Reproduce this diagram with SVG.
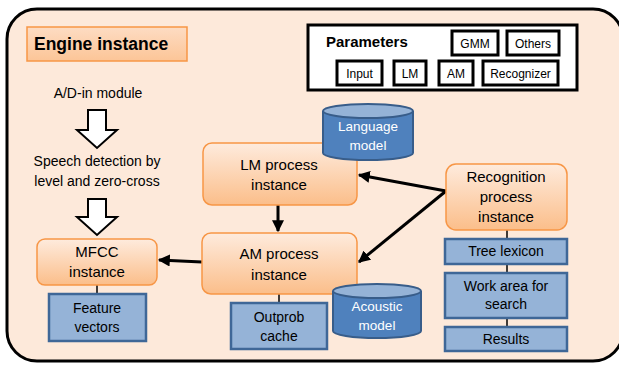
<svg xmlns="http://www.w3.org/2000/svg" width="619" height="365" viewBox="0 0 619 365">
<defs>
<linearGradient id="og" x1="0" y1="0" x2="0" y2="1">
<stop offset="0" stop-color="#FEEBDD"/>
<stop offset="1" stop-color="#FBBE8A"/>
</linearGradient>
<linearGradient id="eg" x1="0" y1="0" x2="0" y2="1">
<stop offset="0" stop-color="#FDDCC3"/>
<stop offset="1" stop-color="#FCC597"/>
</linearGradient>
<marker id="ah" viewBox="0 0 10 10" refX="9" refY="5" markerWidth="4" markerHeight="4" orient="auto" markerUnits="strokeWidth">
<path d="M0,0 L10,5 L0,10 z" fill="#000"/>
</marker>
</defs>
<style>
text{font-family:"Liberation Sans","DejaVu Sans",sans-serif;fill:#000;text-anchor:middle}
.o{fill:url(#og);stroke:#F79646;stroke-width:1.5}
.b{fill:#95B3D7;stroke:#3F6797;stroke-width:2.5}
.p{fill:#fff;stroke:#000;stroke-width:3}
.cy{fill:#4F81BD;stroke:#385D8A;stroke-width:2}
.ct{fill:#95B3D7;stroke:#385D8A;stroke-width:2}
.t15{font-size:15px}
.t14{font-size:14px}
.t13{font-size:13.5px}
.t12{font-size:12px}
.w{fill:#fff}
.ln{stroke:#000;stroke-width:1.5;fill:none}
.ar{stroke:#000;stroke-width:3;fill:none;marker-end:url(#ah)}
.ba{fill:#fff;stroke:#000;stroke-width:2}
</style>
<rect id="engine" x="7" y="9" width="616" height="352" rx="30" fill="#FDE9DA" stroke="#000" stroke-width="3"/>
<g id="engine-title">
<rect x="27" y="27" width="160" height="34" fill="url(#eg)" stroke="#F79646" stroke-width="1.5"/>
<text x="34" y="50" style="text-anchor:start;font-size:17.5px;font-weight:bold">Engine instance</text>
</g>
<g id="parameters">
<rect x="308" y="25" width="269" height="65" class="p"/>
<text x="326" y="47" style="text-anchor:start;font-size:15px;font-weight:bold">Parameters</text>
<rect x="452" y="31" width="46" height="24" class="p"/>
<text x="475" y="48" class="t12">GMM</text>
<rect x="507" y="31" width="52" height="24" class="p"/>
<text x="533" y="48" class="t12">Others</text>
<rect x="337" y="61" width="45" height="24" class="p"/>
<text x="359.500" y="78" class="t12">Input</text>
<rect x="394" y="61" width="32" height="24" class="p"/>
<text x="410" y="78" class="t12">LM</text>
<rect x="439" y="61" width="34" height="24" class="p"/>
<text x="456" y="78" class="t12">AM</text>
<rect x="483" y="61" width="75" height="24" class="p"/>
<text x="520.500" y="78" class="t12">Recognizer</text>
</g>
<g id="ad-in">
<text x="98" y="98" class="t14">A/D-in module</text>
</g>
<g id="speech-detection">
<text x="97" y="166" class="t14">Speech detection by</text>
<text x="97" y="186" class="t14">level and zero-cross</text>
</g>
<g id="block-arrows">
<path d="M88,110 H106 V130 H117 L97,148 L77,130 H88 Z" class="ba"/>
<path d="M88,199 H106 V217 H117 L97,235 L77,217 H88 Z" class="ba"/>
</g>
<g id="connectors">
<line x1="97" y1="285" x2="97" y2="294" class="ln"/>
<line x1="279" y1="294" x2="279" y2="303" class="ln"/>
<line x1="507" y1="230" x2="507" y2="239" class="ln"/>
<line x1="507" y1="264" x2="507" y2="273" class="ln"/>
<line x1="507" y1="318" x2="507" y2="327" class="ln"/>
<line x1="278" y1="205" x2="278" y2="231" class="ar"/>
<line x1="202" y1="262" x2="159" y2="260" class="ar"/>
<line x1="446" y1="191" x2="359" y2="175" class="ar"/>
<line x1="446" y1="191" x2="359" y2="262" class="ar"/>
</g>
<g id="lm-process">
<rect x="203" y="143" width="154" height="62" rx="9" class="o"/>
<text x="279" y="170" class="t15">LM process</text>
<text x="279" y="190" class="t15">instance</text>
</g>
<g id="language-model">
<path d="M323,111 V153 A45,7 0 0 0 413,153 V111" class="cy"/>
<ellipse cx="368" cy="111" rx="45" ry="7" class="ct"/>
<text x="368" y="131" class="t13 w">Language</text>
<text x="368" y="150" class="t13 w">model</text>
</g>
<g id="am-process">
<rect x="202" y="233" width="155" height="61" rx="9" class="o"/>
<text x="279" y="259" class="t15">AM process</text>
<text x="279" y="280" class="t15">instance</text>
</g>
<g id="outprob-cache">
<rect x="231" y="303" width="96" height="46" class="b"/>
<text x="279" y="322" class="t14">Outprob</text>
<text x="279" y="341" class="t14">cache</text>
</g>
<g id="acoustic-model">
<path d="M333,291 V331 A44,7 0 0 0 421,331 V291" class="cy"/>
<ellipse cx="377" cy="291" rx="44" ry="7" class="ct"/>
<text x="377" y="311" class="t13 w">Acoustic</text>
<text x="377" y="330" class="t13 w">model</text>
</g>
<g id="mfcc">
<rect x="37" y="239" width="120" height="46" rx="8" class="o"/>
<text x="97" y="257" class="t15">MFCC</text>
<text x="97" y="277" class="t15">instance</text>
</g>
<g id="feature-vectors">
<rect x="49" y="294" width="97" height="47" class="b"/>
<text x="97" y="313" class="t14">Feature</text>
<text x="97" y="332" class="t14">vectors</text>
</g>
<g id="recognition">
<rect x="446" y="164" width="121" height="66" rx="10" class="o"/>
<text x="506" y="182" class="t15">Recognition</text>
<text x="506" y="202" class="t15">process</text>
<text x="506" y="222" class="t15">instance</text>
</g>
<g id="tree-lexicon">
<rect x="445" y="239" width="122" height="25" class="b"/>
<text x="506" y="256" class="t14">Tree lexicon</text>
</g>
<g id="work-area">
<rect x="445" y="273" width="122" height="45" class="b"/>
<text x="506" y="291" class="t14">Work area for</text>
<text x="506" y="309" class="t14">search</text>
</g>
<g id="results">
<rect x="445" y="327" width="122" height="24" class="b"/>
<text x="506" y="344" class="t14">Results</text>
</g>
</svg>
